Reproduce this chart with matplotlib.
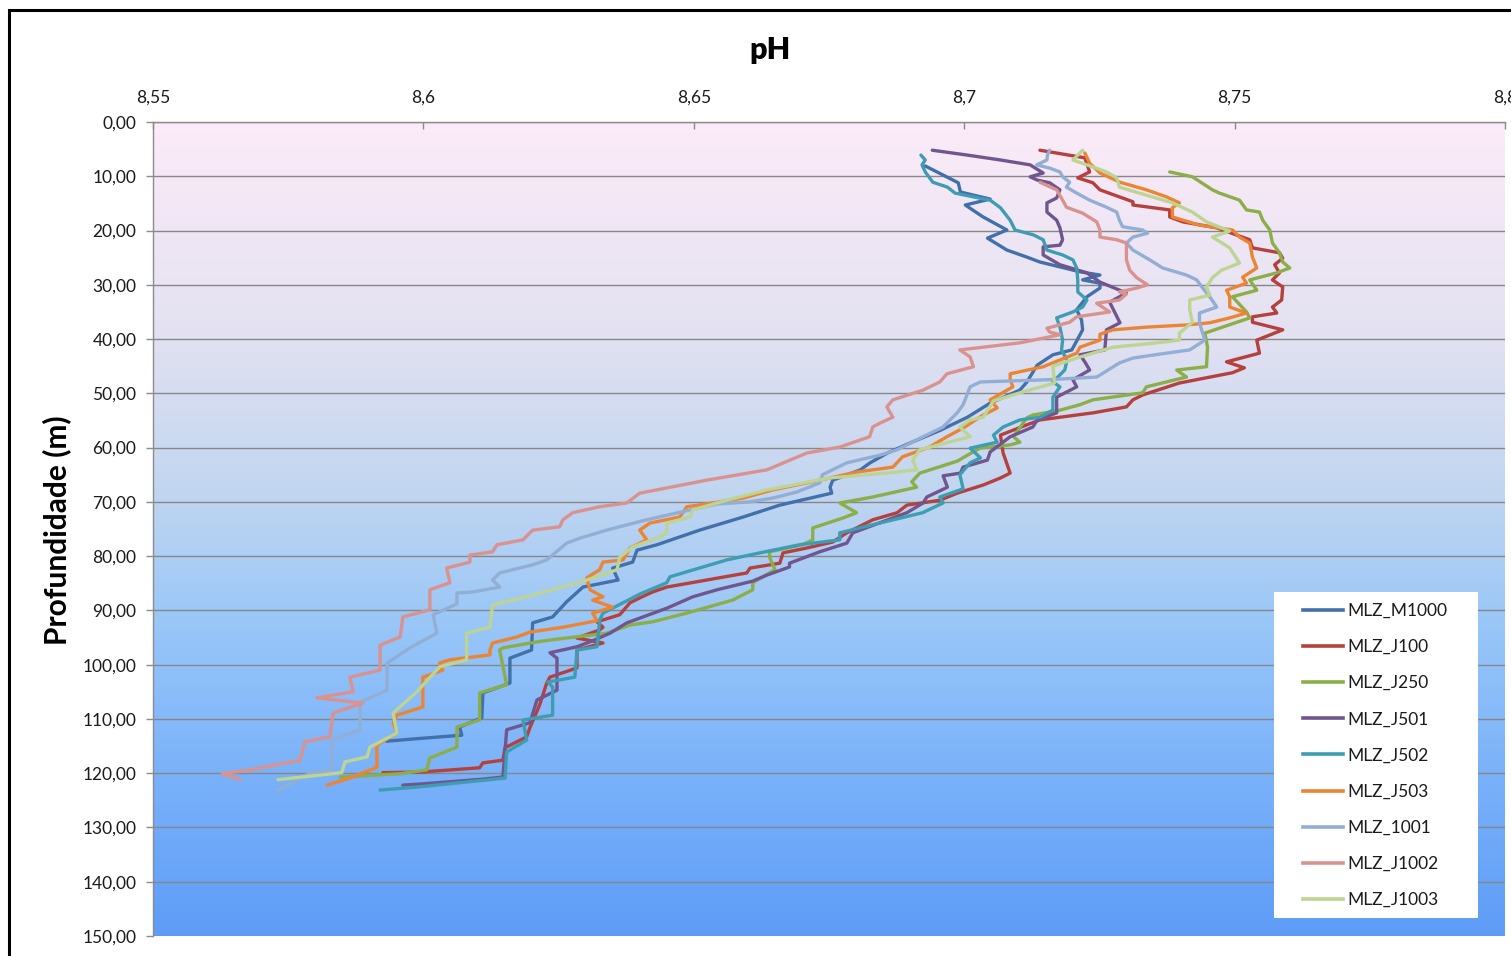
import numpy as np
import matplotlib
matplotlib.use('Agg')
import matplotlib.pyplot as plt
from matplotlib.colors import LinearSegmentedColormap
from matplotlib.patches import Rectangle
from matplotlib.ticker import FuncFormatter
from matplotlib.lines import Line2D

plt.rcParams['font.family'] = ['Lato', 'DejaVu Sans']

# ---------------- data (pH vs depth in m) ----------------
m1000_ph = [8.6928, 8.6989, 8.6993, 8.7048, 8.7002, 8.7035, 8.7079, 8.7043, 8.7079, 8.7116, 8.7140, 8.7214, 8.7251, 8.7219, 8.7251, 8.7251, 8.7227, 8.7208, 8.7217, 8.7219, 8.7199, 8.7164, 8.7135, 8.7116, 8.7103, 8.7048, 8.7006, 8.6956, 8.6901, 8.6858, 8.6826, 8.6808, 8.6757, 8.6752, 8.6755, 8.6659, 8.6591, 8.6511, 8.6432, 8.6395, 8.6387, 8.6350, 8.6360, 8.6295, 8.6265, 8.6239, 8.6202, 8.6200, 8.6160, 8.6160, 8.6110, 8.6108, 8.6067, 8.6071, 8.5993, 8.5932]
m1000_depth = [8.1, 11.2, 12.9, 14.2, 15.3, 17.5, 19.9, 21.4, 23.6, 24.9, 25.8, 27.6, 28.2, 29.1, 29.7, 30.6, 32.2, 34.6, 36.5, 38.3, 42.0, 42.9, 44.8, 47.9, 49.4, 51.8, 54.4, 56.8, 59.1, 61.0, 62.8, 64.1, 66.0, 67.3, 68.4, 70.6, 72.8, 75.2, 77.9, 78.9, 81.1, 82.2, 84.4, 85.7, 88.4, 91.2, 92.3, 97.3, 98.8, 103.4, 105.2, 109.8, 111.5, 113.0, 113.6, 114.1]

j100_ph = [8.7140, 8.7223, 8.7232, 8.7210, 8.7238, 8.7251, 8.7312, 8.7312, 8.7380, 8.7380, 8.7404, 8.7467, 8.7528, 8.7533, 8.7583, 8.7589, 8.7574, 8.7583, 8.7570, 8.7589, 8.7587, 8.7570, 8.7578, 8.7533, 8.7533, 8.7589, 8.7541, 8.7546, 8.7485, 8.7518, 8.7496, 8.7398, 8.7330, 8.7312, 8.7300, 8.7238, 8.7140, 8.7116, 8.7067, 8.7072, 8.7085, 8.7067, 8.7035, 8.6987, 8.6955, 8.6894, 8.6876, 8.6831, 8.6783, 8.6757, 8.6709, 8.6665, 8.6659, 8.6604, 8.6598, 8.6524, 8.6450, 8.6424, 8.6400, 8.6382, 8.6363, 8.6321, 8.6332, 8.6326, 8.6284, 8.6332, 8.6284, 8.6284, 8.6234, 8.6228, 8.6215, 8.6197, 8.6191, 8.6151, 8.6147, 8.6110, 8.6104, 8.5994, 8.5925]
j100_depth = [5.2, 6.6, 9.2, 10.3, 11.2, 12.5, 14.7, 15.3, 16.2, 17.5, 18.4, 19.5, 21.7, 23.2, 24.1, 25.1, 26.3, 27.8, 29.1, 30.4, 32.8, 34.1, 35.2, 35.9, 36.9, 38.3, 40.2, 42.6, 44.2, 45.3, 46.2, 48.1, 50.3, 51.2, 52.5, 53.6, 54.9, 55.8, 57.7, 61.0, 64.7, 65.6, 66.9, 68.4, 69.7, 70.6, 72.0, 73.3, 75.7, 77.4, 78.5, 79.4, 81.3, 82.2, 83.1, 84.4, 85.7, 86.6, 87.7, 88.6, 90.8, 92.1, 93.1, 93.6, 95.1, 96.0, 97.3, 100.6, 102.3, 103.4, 107.4, 111.6, 113.3, 115.3, 117.6, 118.1, 119.0, 119.8, 119.9]

j250_ph = [8.7380, 8.7422, 8.7459, 8.7472, 8.7509, 8.7522, 8.7546, 8.7552, 8.7565, 8.7570, 8.7583, 8.7589, 8.7602, 8.7578, 8.7528, 8.7541, 8.7496, 8.7522, 8.7528, 8.7445, 8.7450, 8.7448, 8.7393, 8.7411, 8.7337, 8.7330, 8.7238, 8.7214, 8.7177, 8.7127, 8.7116, 8.7091, 8.7103, 8.7085, 8.7029, 8.7006, 8.6987, 8.6918, 8.6903, 8.6912, 8.6831, 8.6770, 8.6801, 8.6775, 8.6720, 8.6720, 8.6701, 8.6640, 8.6640, 8.6650, 8.6609, 8.6609, 8.6572, 8.6487, 8.6424, 8.6382, 8.6339, 8.6239, 8.6210, 8.6147, 8.6141, 8.6154, 8.6104, 8.6104, 8.6062, 8.6062, 8.6012, 8.6006, 8.5957, 8.5846]
j250_depth = [9.2, 10.1, 12.5, 13.1, 14.4, 16.2, 16.6, 18.1, 19.9, 22.3, 24.1, 25.8, 26.9, 27.8, 29.1, 31.0, 32.2, 35.0, 36.1, 38.9, 41.5, 45.1, 45.7, 47.0, 48.8, 49.9, 51.2, 52.1, 53.1, 54.0, 54.5, 58.0, 59.0, 59.5, 60.1, 61.4, 62.5, 64.7, 66.3, 67.3, 69.1, 70.2, 72.0, 73.0, 74.8, 77.0, 77.9, 79.2, 80.2, 82.5, 84.9, 86.2, 88.1, 90.5, 92.1, 92.7, 94.2, 95.4, 95.8, 96.9, 97.3, 103.7, 105.2, 110.2, 111.5, 115.2, 117.2, 119.4, 120.1, 120.7]

j501_ph = [8.6941, 8.7006, 8.7067, 8.7122, 8.7146, 8.7122, 8.7135, 8.7158, 8.7177, 8.7171, 8.7153, 8.7153, 8.7171, 8.7177, 8.7182, 8.7177, 8.7146, 8.7146, 8.7177, 8.7227, 8.7251, 8.7300, 8.7269, 8.7288, 8.7263, 8.7260, 8.7214, 8.7223, 8.7232, 8.7201, 8.7208, 8.7171, 8.7171, 8.7135, 8.7127, 8.7085, 8.7048, 8.7043, 8.6998, 8.6993, 8.6961, 8.6969, 8.6931, 8.6924, 8.6894, 8.6794, 8.6783, 8.6733, 8.6677, 8.6677, 8.6635, 8.6609, 8.6543, 8.6498, 8.6450, 8.6376, 8.6345, 8.6313, 8.6284, 8.6234, 8.6247, 8.6247, 8.6210, 8.6197, 8.6154, 8.6147, 8.6110, 8.5994, 8.5962]
j501_depth = [5.2, 6.1, 7.0, 7.9, 9.4, 10.1, 10.7, 11.2, 12.5, 14.0, 14.9, 16.6, 18.1, 19.5, 21.7, 22.7, 23.0, 24.5, 26.3, 27.8, 29.5, 31.5, 33.2, 37.0, 38.3, 42.0, 42.9, 44.2, 45.7, 47.5, 48.8, 50.7, 53.6, 54.9, 56.2, 58.0, 60.8, 62.3, 63.6, 64.7, 65.2, 67.3, 69.1, 70.2, 72.0, 75.7, 77.6, 79.2, 81.3, 82.0, 83.5, 84.6, 86.2, 87.5, 89.6, 92.3, 94.2, 95.6, 96.7, 97.8, 98.8, 104.7, 106.5, 110.7, 112.0, 120.7, 121.1, 122.0, 122.2]

j502_ph = [8.6920, 8.6928, 8.6922, 8.6928, 8.6942, 8.6969, 8.6983, 8.7017, 8.7048, 8.7067, 8.7085, 8.7094, 8.7128, 8.7146, 8.7153, 8.7182, 8.7201, 8.7208, 8.7210, 8.7210, 8.7227, 8.7219, 8.7201, 8.7171, 8.7177, 8.7182, 8.7180, 8.7190, 8.7186, 8.7164, 8.7177, 8.7164, 8.7164, 8.7140, 8.7103, 8.7072, 8.7054, 8.7061, 8.7011, 8.7030, 8.7011, 8.6992, 8.6998, 8.6955, 8.6961, 8.6923, 8.6844, 8.6770, 8.6770, 8.6696, 8.6622, 8.6561, 8.6456, 8.6450, 8.6400, 8.6332, 8.6326, 8.6321, 8.6284, 8.6280, 8.6230, 8.6239, 8.6239, 8.6184, 8.6191, 8.6154, 8.6151, 8.5994, 8.5920]
j502_depth = [6.1, 7.0, 7.9, 9.2, 11.1, 12.0, 13.1, 13.8, 14.4, 15.8, 18.1, 19.9, 20.8, 21.7, 23.6, 24.5, 25.4, 26.9, 29.1, 31.3, 32.8, 34.1, 35.0, 36.1, 37.8, 40.2, 42.0, 43.9, 45.7, 47.9, 48.8, 50.7, 53.1, 54.4, 54.9, 56.2, 57.7, 59.0, 60.1, 61.9, 62.8, 65.0, 67.6, 69.1, 70.2, 72.0, 73.9, 75.7, 77.0, 77.9, 79.4, 80.7, 83.8, 84.9, 87.0, 90.5, 91.8, 96.7, 97.3, 102.3, 103.2, 104.1, 109.3, 110.2, 113.9, 116.1, 120.9, 122.5, 123.1]

j503_ph = [8.7223, 8.7232, 8.7251, 8.7288, 8.7337, 8.7374, 8.7398, 8.7385, 8.7385, 8.7435, 8.7496, 8.7509, 8.7528, 8.7533, 8.7541, 8.7515, 8.7522, 8.7485, 8.7491, 8.7491, 8.7522, 8.7491, 8.7454, 8.7411, 8.7337, 8.7275, 8.7251, 8.7251, 8.7214, 8.7208, 8.7146, 8.7085, 8.7085, 8.7090, 8.7048, 8.7061, 8.7035, 8.6998, 8.6968, 8.6936, 8.6886, 8.6868, 8.6801, 8.6733, 8.6646, 8.6591, 8.6535, 8.6487, 8.6474, 8.6419, 8.6400, 8.6413, 8.6382, 8.6369, 8.6332, 8.6326, 8.6302, 8.6308, 8.6332, 8.6313, 8.6350, 8.6313, 8.6321, 8.6258, 8.6197, 8.6173, 8.6128, 8.6123, 8.6123, 8.6049, 8.6030, 8.6036, 8.5999, 8.5999, 8.5951, 8.5944, 8.5951, 8.5914, 8.5914, 8.5864, 8.5822]
j503_depth = [5.7, 7.6, 9.4, 11.1, 12.5, 13.8, 14.9, 15.8, 17.5, 19.0, 19.9, 21.2, 22.3, 24.9, 26.9, 28.6, 29.7, 31.0, 32.2, 34.1, 35.2, 36.1, 37.0, 37.4, 37.8, 38.3, 39.1, 40.2, 41.5, 42.6, 45.1, 46.4, 47.5, 48.8, 51.2, 52.7, 54.0, 56.4, 58.0, 59.9, 61.7, 63.6, 64.5, 66.0, 67.8, 69.3, 70.2, 70.9, 72.8, 73.9, 75.2, 77.0, 78.5, 80.7, 81.1, 82.5, 84.0, 86.2, 87.5, 88.1, 89.4, 90.5, 91.9, 93.1, 94.0, 94.9, 96.0, 97.3, 98.2, 99.1, 99.7, 101.0, 102.3, 107.8, 109.3, 110.7, 112.6, 114.8, 118.9, 120.9, 122.2]

s1001_ph = [8.7158, 8.7154, 8.7153, 8.7134, 8.7158, 8.7177, 8.7182, 8.7195, 8.7189, 8.7208, 8.7232, 8.7263, 8.7282, 8.7287, 8.7293, 8.7330, 8.7339, 8.7312, 8.7300, 8.7312, 8.7343, 8.7367, 8.7411, 8.7430, 8.7441, 8.7454, 8.7467, 8.7435, 8.7435, 8.7445, 8.7417, 8.7367, 8.7312, 8.7287, 8.7245, 8.7153, 8.7030, 8.7011, 8.6998, 8.6987, 8.6961, 8.6924, 8.6876, 8.6844, 8.6783, 8.6738, 8.6733, 8.6690, 8.6646, 8.6604, 8.6543, 8.6493, 8.6413, 8.6339, 8.6289, 8.6265, 8.6228, 8.6202, 8.6141, 8.6128, 8.6141, 8.6091, 8.6062, 8.6062, 8.6018, 8.6025, 8.5975, 8.5933, 8.5933, 8.5883, 8.5883, 8.5831, 8.5831, 8.5790, 8.5731]
s1001_depth = [5.2, 6.1, 7.0, 7.9, 8.5, 9.2, 10.1, 11.1, 12.0, 13.1, 14.4, 15.7, 16.6, 18.1, 19.3, 19.9, 20.5, 21.2, 22.3, 23.6, 25.4, 26.9, 28.2, 29.1, 30.6, 32.2, 34.1, 35.2, 37.0, 40.2, 42.0, 42.7, 43.5, 44.4, 47.0, 47.5, 47.9, 48.8, 52.1, 53.6, 56.2, 58.0, 60.4, 61.4, 62.8, 65.0, 66.5, 68.2, 69.3, 70.0, 70.4, 71.5, 73.3, 75.2, 76.7, 77.6, 80.7, 81.6, 83.1, 84.4, 85.7, 86.6, 86.8, 88.8, 90.8, 94.2, 96.9, 99.7, 104.7, 106.9, 112.0, 113.9, 119.4, 120.0, 123.1]

j1002_ph = [8.7140, 8.7171, 8.7182, 8.7189, 8.7219, 8.7245, 8.7251, 8.7251, 8.7282, 8.7300, 8.7300, 8.7306, 8.7319, 8.7339, 8.7319, 8.7287, 8.7300, 8.7287, 8.7245, 8.7269, 8.7208, 8.7195, 8.7153, 8.7158, 8.7177, 8.7103, 8.6992, 8.7011, 8.7017, 8.6968, 8.6955, 8.6924, 8.6868, 8.6857, 8.6868, 8.6844, 8.6831, 8.6825, 8.6770, 8.6709, 8.6635, 8.6524, 8.6400, 8.6376, 8.6326, 8.6276, 8.6258, 8.6252, 8.6202, 8.6184, 8.6136, 8.6128, 8.6086, 8.6086, 8.6043, 8.6049, 8.6012, 8.6012, 8.5962, 8.5957, 8.5920, 8.5920, 8.5864, 8.5870, 8.5803, 8.5888, 8.5833, 8.5827, 8.5781, 8.5772, 8.5679, 8.5628, 8.5661]
j1002_depth = [11.1, 12.5, 14.4, 15.7, 16.8, 18.4, 19.9, 21.2, 21.7, 22.3, 25.4, 27.3, 28.7, 30.0, 30.6, 31.3, 31.7, 32.8, 33.4, 35.0, 35.9, 36.9, 38.0, 38.7, 39.2, 40.7, 42.0, 43.3, 45.1, 46.4, 47.9, 49.4, 51.2, 52.5, 54.4, 55.5, 56.2, 58.0, 59.9, 61.0, 64.1, 66.0, 68.4, 70.2, 70.9, 72.0, 73.3, 74.6, 75.2, 77.0, 77.9, 79.2, 79.8, 81.1, 82.2, 84.9, 86.2, 89.9, 91.2, 94.9, 96.4, 101.0, 102.3, 105.0, 106.1, 107.1, 108.9, 113.3, 114.2, 117.6, 119.4, 120.1, 121.2]

j1003_ph = [8.7219, 8.7201, 8.7227, 8.7263, 8.7282, 8.7287, 8.7324, 8.7385, 8.7422, 8.7448, 8.7491, 8.7459, 8.7491, 8.7509, 8.7476, 8.7459, 8.7448, 8.7454, 8.7417, 8.7417, 8.7422, 8.7398, 8.7398, 8.7356, 8.7275, 8.7238, 8.7208, 8.7164, 8.7167, 8.7103, 8.7054, 8.7035, 8.7011, 8.6992, 8.7011, 8.6968, 8.6918, 8.6905, 8.6912, 8.6857, 8.6751, 8.6635, 8.6561, 8.6498, 8.6493, 8.6450, 8.6450, 8.6437, 8.6387, 8.6363, 8.6358, 8.6302, 8.6202, 8.6128, 8.6123, 8.6080, 8.6080, 8.6030, 8.5988, 8.5944, 8.5951, 8.5901, 8.5896, 8.5855, 8.5849, 8.5731]
j1003_depth = [5.2, 7.0, 7.9, 9.2, 10.3, 12.0, 13.1, 14.9, 16.6, 18.4, 20.1, 21.2, 23.2, 26.0, 27.3, 28.7, 30.4, 31.9, 32.8, 34.6, 36.9, 38.9, 40.2, 40.7, 41.5, 42.6, 43.5, 45.0, 48.1, 49.9, 51.4, 54.4, 54.9, 56.2, 58.0, 59.1, 60.4, 62.3, 64.1, 64.7, 65.6, 67.8, 69.7, 71.5, 72.8, 73.9, 75.7, 76.5, 78.3, 80.2, 82.5, 84.4, 87.2, 89.0, 93.1, 94.2, 99.1, 100.4, 105.0, 108.9, 112.6, 115.2, 117.0, 117.9, 119.9, 121.2]

series_names = ['MLZ_M1000', 'MLZ_J100', 'MLZ_J250', 'MLZ_J501', 'MLZ_J502',
                'MLZ_J503', 'MLZ_1001', 'MLZ_J1002', 'MLZ_J1003']
series_ph = [m1000_ph, j100_ph, j250_ph, j501_ph, j502_ph, j503_ph, s1001_ph, j1002_ph, j1003_ph]
series_depth = [m1000_depth, j100_depth, j250_depth, j501_depth, j502_depth,
                j503_depth, s1001_depth, j1002_depth, j1003_depth]
series_colors = ['#4170AA', '#B5403D', '#8BAE48', '#71558F', '#3E9DB3',
                 '#EB8534', '#93AED5', '#DA928F', '#BDD493']

x_ticks = [8.55, 8.60, 8.65, 8.70, 8.75, 8.80]
y_ticks = list(range(0, 151, 10))

# ---------------- figure ----------------
W, H = 1511, 956
fig = plt.figure(figsize=(W / 100, H / 100), dpi=100)
fig.patch.set_facecolor('white')

ax = fig.add_axes([153 / W, 1 - 936 / H, (1505 - 153) / W, (936 - 122) / H])
ax.set_facecolor('none')

cmap = LinearSegmentedColormap.from_list(
    'bg', [(0.0, '#FCEBF8'), (0.25, '#E4E2F2'), (0.45, '#C2D6F0'),
           (0.62, '#98C6F8'), (0.8, '#7AB2FA'), (1.0, '#5E9CF7')])
ax.imshow(np.linspace(0, 1, 256).reshape(-1, 1), cmap=cmap, aspect='auto',
          extent=[0, 1, 0, 1], transform=ax.transAxes, zorder=0)

for name, ph, dep, col in zip(series_names, series_ph, series_depth, series_colors):
    ax.plot(ph, dep, color=col, lw=2.4, label=name, zorder=3,
            solid_joinstyle='round', solid_capstyle='round')

ax.set_xlim(8.55, 8.80)
ax.set_ylim(150, 0)
ax.set_xticks(x_ticks)
ax.set_yticks(y_ticks)
ax.xaxis.tick_top()
ax.xaxis.set_major_formatter(FuncFormatter(
    lambda v, p: (f"{v:.2f}".rstrip('0').rstrip('.')).replace('.', ',')))
ax.yaxis.set_major_formatter(FuncFormatter(lambda v, p: f"{v:.2f}".replace('.', ',')))

ax.yaxis.grid(True, color='#878787', lw=1.0)
ax.set_axisbelow(True)
for s in ['right', 'bottom']:
    ax.spines[s].set_visible(False)
for s in ['left', 'top']:
    ax.spines[s].set_color('#8C8C8C')
    ax.spines[s].set_linewidth(1.0)

ax.tick_params(axis='x', direction='in', length=5, width=1, color='#8C8C8C',
               pad=12, labelsize=12.5, labelcolor='#1A1A1A')
ax.tick_params(axis='y', direction='out', length=5, width=1, color='#8C8C8C',
               pad=7, labelsize=12.5, labelcolor='#1A1A1A')

fig.text(770 / W, 1 - 50 / H, 'pH', ha='center', va='center',
         fontsize=22, fontweight='heavy', color='black')
fig.text(57 / W, 1 - 530 / H, 'Profundidade (m)', ha='center', va='center',
         rotation=90, fontsize=21.5, fontweight='bold', color='black')

# legend box
fig.add_artist(Rectangle((1274 / W, 1 - 918 / H), (1478 - 1274) / W, (918 - 592) / H,
                         transform=fig.transFigure, facecolor='white',
                         edgecolor='none', zorder=5))
handles = [Line2D([], [], color=c, lw=2.6) for c in series_colors]
leg = fig.legend(handles, series_names, loc='upper left',
                 bbox_to_anchor=(1303 / W, 1 - 603 / H), bbox_transform=fig.transFigure,
                 frameon=False, fontsize=12.5, handlelength=2.3, handletextpad=0.25,
                 labelspacing=1.16, borderpad=0, borderaxespad=0)
leg.set_zorder(6)
for t in leg.get_texts():
    t.set_color('#1A1A1A')

# outer chart border (cropped at right and bottom)
fig.add_artist(Rectangle((9 / W, -0.2), 2.0, (1 - 10 / H) + 0.2,
                         transform=fig.transFigure, fill=False,
                         edgecolor='black', lw=2.2, zorder=10))

fig.savefig('out.png', dpi=100)
